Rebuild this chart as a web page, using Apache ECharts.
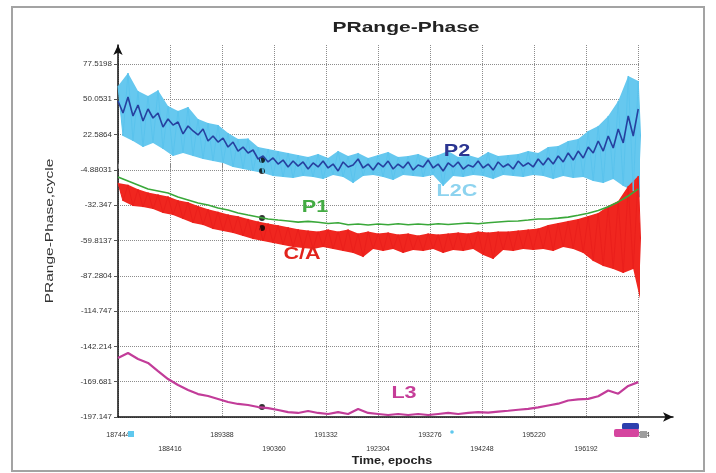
<!DOCTYPE html>
<html>
<head>
<meta charset="utf-8">
<title>PRange-Phase</title>
<script src="https://cdn.jsdelivr.net/npm/echarts@6/dist/echarts.min.js"></script>
<style>
  html, body { margin: 0; padding: 0; background: #ffffff; }
  #chart { width: 716px; height: 473px; }
</style>
</head>
<body>
<div id="chart"></div>
<script>
// Epoch sampling of the series (one sample every epochStep epochs)
const epochStart = 187444;
const epochStep = 187;

// Axis tick labels
const xTickLabels = ['187444', '188416', '189388', '190360', '191332', '192304',
  '193276', '194248', '195220', '196192', '197164'];
const yTickLabels = ['77.5198', '50.0531', '22.5864', '-4.88031', '-32.347', '-59.8137',
  '-87.2804', '-114.747', '-142.214', '-169.681', '-197.147'];

// L2C: upper / lower edge of the noise band, cycles
const l2cHigh = [60.4, 70.5, 56.5, 52.6, 57.0, 44.8, 41.0, 44.0, 34.7, 31.6,
  30.0, 23.8, 19.2, 19.5, 12.9, 11.4, 9.8, 8.3, 6.7, 5.2,
  7.5, 4.4, 9.8, 5.9, 8.3, 4.4, 6.7, 9.0, 5.2, 5.9,
  7.5, 4.4, 6.7, 9.8, 5.2, 6.7, 4.4, 9.0, 5.9, 6.7,
  7.5, 9.8, 8.3, 12.9, 13.7, 17.6, 19.2, 25.4, 29.3, 37.1,
  48.7, 68.2, 64.3];
const l2cLow = [21.5, 17.6, 13.0, 16.1, 11.4, 6.0, 8.3, 5.9, 3.6, 2.0,
  0.5, -2.6, -4.2, -5.7, -7.3, -9.6, -10.4, -11.2, -9.6, -10.4,
  -12.0, -8.8, -10.4, -15.1, -9.6, -8.8, -10.4, -12.7, -8.8, -9.6,
  -10.4, -8.8, -17.4, -9.6, -10.4, -8.8, -9.6, -12.0, -8.8, -9.6,
  -10.4, -8.8, -9.6, -12.0, -9.6, -11.2, -10.4, -13.5, -15.1, -12.0,
  -17.4, -21.3, -29.1];

// P2 trace, sampled every half step, cycles
const p2Values = [48.7, 39.4, 51.8, 37.1, 45.6, 33.2, 42.5, 35.5, 39.4, 28.5,
  34.7, 30.0, 32.4, 23.1, 29.3, 25.4, 22.3, 26.9, 17.6, 21.5,
  16.8, 19.9, 12.9, 16.8, 9.8, 12.9, 8.3, 10.6, 3.6, 5.9,
  1.3, 4.4, -0.3, 2.8, -2.6, 2.0, -1.9, 1.3, -4.2, 0.5,
  -2.6, 2.0, -3.4, -0.3, -5.7, 1.3, -2.6, -1.1, 3.6, -3.4,
  -0.3, -5.0, 0.5, -2.6, 2.0, -4.2, -0.3, -3.4, 1.3, -5.0,
  -1.1, -2.6, 2.8, -3.4, -0.3, -5.7, 0.5, -2.6, 1.3, -4.2,
  -1.1, -2.6, 2.0, -3.4, -0.3, -5.0, 1.3, -2.6, -0.3, -4.2,
  2.0, -1.9, 0.5, -2.6, 3.6, -1.1, 4.4, -0.3, 5.9, 1.3,
  8.3, 2.8, 9.8, 4.4, 12.9, 8.3, 17.6, 9.8, 21.5, 12.2,
  26.9, 16.1, 37.1, 21.5, 42.5];

// C/A: upper / lower edge of the noise band, cycles
const caHigh = [-15.0, -16.5, -20.0, -22.5, -24.0, -25.5, -28.5, -30.0, -33.0, -35.5,
  -37.5, -39.5, -41.0, -43.0, -45.0, -46.5, -48.0, -49.5, -51.0, -52.1,
  -52.9, -51.3, -52.9, -51.3, -54.4, -52.9, -54.4, -53.6, -55.2, -54.4,
  -56.0, -54.4, -55.2, -54.4, -53.6, -54.4, -52.9, -53.6, -52.9, -52.9,
  -52.1, -51.3, -50.5, -47.8, -46.2, -44.6, -43.1, -40.8, -38.4, -33.0,
  -29.1, -17.4, -9.6];
const caLow = [-29.1, -33.0, -33.8, -35.3, -38.4, -40.0, -43.1, -46.2, -47.8, -50.9,
  -52.4, -54.0, -56.3, -58.7, -60.2, -61.8, -63.3, -64.9, -65.7, -66.4,
  -64.9, -66.4, -68.0, -69.5, -72.7, -66.4, -68.0, -66.4, -69.5, -67.2,
  -68.0, -66.4, -69.5, -67.2, -68.0, -66.4, -71.1, -74.2, -67.2, -68.0,
  -66.4, -67.2, -66.4, -68.0, -64.9, -66.4, -69.5, -75.8, -79.7, -82.0,
  -85.1, -82.0, -116.2];

// P1 trace, cycles
const p1Values = [-10.4, -13.5, -16.6, -19.7, -21.3, -22.9, -26.0, -28.3, -30.6, -32.2,
  -34.5, -36.1, -38.4, -40.0, -41.5, -43.1, -43.9, -44.6, -45.5, -44.9,
  -45.6, -46.6, -46.0, -47.6, -47.0, -47.8, -47.0, -47.6, -46.8, -47.6,
  -47.0, -47.6, -46.8, -47.4, -46.8, -46.2, -46.8, -46.0, -45.4, -44.8,
  -44.6, -43.9, -43.1, -43.1, -42.4, -41.6, -40.2, -38.6, -36.4, -33.5,
  -29.8, -25.2, -19.7];

// L3 trace, cycles
const l3Values = [-151.2, -147.4, -152.0, -155.1, -161.4, -167.6, -172.3, -176.1, -179.3, -180.8,
  -183.1, -185.5, -187.0, -187.8, -189.4, -190.2, -191.7, -193.3, -194.0, -192.5,
  -194.0, -194.8, -193.3, -194.8, -190.9, -194.0, -194.8, -195.6, -194.8, -195.6,
  -194.8, -195.6, -194.8, -194.0, -194.8, -194.0, -193.3, -193.8, -193.0, -192.3,
  -191.5, -190.8, -189.6, -188.2, -186.8, -184.3, -183.5, -183.0, -181.0, -176.5,
  -179.0, -173.0, -170.0];

// Marked epoch and the value of each signal there (P2, L2C, P1, C/A, L3)
const markerEpoch = 190136;
const markerValues = [2.8, -5.7, -42.3, -50.1, -189.4];

const FONT = '"Liberation Sans", Arial, sans-serif';
const epochAt = k => epochStart + k * epochStep;
const xTicks = xTickLabels.map(Number);
const yTicks = yTickLabels.map(Number);

function nearestIndex(list, v) {
  let best = 0;
  for (let i = 1; i < list.length; i++) {
    if (Math.abs(list[i] - v) < Math.abs(list[best] - v)) best = i;
  }
  return best;
}

// Noisy trace: alternate between the upper and lower edge
function zigzag(high, low) {
  const pts = [];
  for (let k = 0; k < high.length; k++) {
    pts.push([epochAt(k), high[k]]);
    pts.push([epochAt(k) + epochStep / 2, low[k]]);
  }
  return pts;
}

function trace(values, step) {
  return values.map((v, k) => [epochStart + k * step, v]);
}

// Filled band between the two edges
function bandSeries(name, high, low, color) {
  return {
    type: 'custom',
    name: name,
    silent: true,
    clip: true,
    data: [[epochStart, high[0]]],
    renderItem: function (params, api) {
      const pts = [];
      for (let k = 0; k < high.length; k++) pts.push(api.coord([epochAt(k), high[k]]));
      for (let k = low.length - 1; k >= 0; k--) pts.push(api.coord([epochAt(k) + epochStep / 2, low[k]]));
      return { type: 'polygon', shape: { points: pts }, style: { fill: color } };
    }
  };
}

function lineSeries(name, data, color, width) {
  return {
    type: 'line',
    name: name,
    data: data,
    showSymbol: false,
    symbol: 'none',
    silent: true,
    lineStyle: { color: color, width: width },
    itemStyle: { color: color }
  };
}

const gridLine = { type: 'dotted', color: '#8c8c8c', width: 1 };
const arrowLine = {
  show: true, onZero: false, symbol: ['none', 'arrow'], symbolSize: [7, 10],
  lineStyle: { color: '#111', width: 1.5 }
};

function seriesLabel(text, x, y, color) {
  return {
    type: 'text', x: x, y: y, scaleX: 1.27, z: 100,
    style: {
      text: text, font: 'bold 17px ' + FONT, fill: color,
      align: 'center', verticalAlign: 'middle',
      textAlign: 'center', textVerticalAlign: 'middle'
    }
  };
}

const chart = echarts.init(document.getElementById('chart'));
chart.setOption({
  animation: false,
  backgroundColor: '#ffffff',
  grid: [
    { left: 118, right: 76, top: 45, bottom: 56 },
    { left: 118, right: 43, top: 45, bottom: 56 }
  ],
  xAxis: [
    {
      type: 'value', gridIndex: 0, min: epochStart, max: 197201,
      axisLine: { show: false },
      axisTick: { show: true, length: 5, customValues: xTicks, lineStyle: { color: '#888' } },
      axisLabel: {
        customValues: xTicks, fontSize: 7, fontFamily: FONT, color: '#333',
        margin: 11, lineHeight: 14,
        formatter: function (v) {
          const i = nearestIndex(xTicks, v);
          return (i % 2 ? '\n' : '') + xTickLabels[i];
        }
      },
      splitLine: { show: true, lineStyle: gridLine }
    },
    {
      type: 'value', gridIndex: 1, min: 0, max: 1,
      axisLine: arrowLine, axisTick: { show: false }, axisLabel: { show: false },
      splitLine: { show: false }
    }
  ],
  yAxis: [
    {
      type: 'value', gridIndex: 0, min: -197.147, max: 92.3,
      axisLine: { show: false },
      axisTick: { show: true, length: 4, customValues: yTicks, lineStyle: { color: '#555' } },
      axisLabel: {
        customValues: yTicks, fontSize: 8, fontFamily: FONT, color: '#333', margin: 6,
        formatter: function (v) { return yTickLabels[nearestIndex(yTicks, v)]; }
      },
      splitLine: { show: true, lineStyle: gridLine }
    },
    {
      type: 'value', gridIndex: 1, min: 0, max: 1,
      axisLine: arrowLine, axisTick: { show: false }, axisLabel: { show: false },
      splitLine: { show: false }
    }
  ],
  series: [
    bandSeries('L2C band', l2cHigh, l2cLow, '#66c8ef'),
    lineSeries('L2C', zigzag(l2cHigh, l2cLow), '#5ac3ed', 1),
    lineSeries('P2', trace(p2Values, epochStep / 2), '#26409f', 1.6),
    bandSeries('C/A band', caHigh, caLow, '#f0261f'),
    lineSeries('C/A', zigzag(caHigh, caLow), '#ea1f1c', 1),
    lineSeries('P1', trace(p1Values, epochStep), '#3aa83a', 1.6),
    lineSeries('L3', trace(l3Values, epochStep), '#c23c99', 2.2),
    {
      type: 'scatter', name: 'marker', silent: true,
      symbolSize: 6, itemStyle: { color: '#000' },
      data: markerValues.map(v => [markerEpoch, v])
    }
  ],
  graphic: [
    {
      type: 'rect', z: 100, silent: true,
      shape: { x: 12, y: 7, width: 692, height: 464 },
      style: { fill: 'none', stroke: '#a3a3a3', lineWidth: 2 }
    },
    {
      type: 'text', x: 406, y: 28, scaleX: 1.5, z: 100,
      style: {
        text: 'PRange-Phase', font: 'bold 14px ' + FONT, fill: '#222',
        align: 'center', verticalAlign: 'middle', textAlign: 'center', textVerticalAlign: 'middle'
      }
    },
    {
      type: 'text', x: 50, y: 231, rotation: Math.PI / 2, scaleX: 1.55, z: 100,
      style: {
        text: 'PRange-Phase,cycle', font: '10px ' + FONT, fill: '#333',
        align: 'center', verticalAlign: 'middle', textAlign: 'center', textVerticalAlign: 'middle'
      }
    },
    {
      type: 'text', x: 392, y: 461, scaleX: 1.15, z: 100,
      style: {
        text: 'Time, epochs', font: 'bold 11px ' + FONT, fill: '#222',
        align: 'center', verticalAlign: 'middle', textAlign: 'center', textVerticalAlign: 'middle'
      }
    },
    seriesLabel('P2', 457, 151, '#2b3591'),
    seriesLabel('L2C', 457, 191, '#8dd3ef'),
    seriesLabel('P1', 315, 207, '#43ab43'),
    seriesLabel('C/A', 302, 254, '#e2231c'),
    seriesLabel('L3', 404, 393, '#c53d98'),
    { type: 'rect', z: 100, shape: { x: 622, y: 423, width: 17, height: 7, r: 2 }, style: { fill: '#2c3fae' } },
    { type: 'rect', z: 100, shape: { x: 614, y: 429, width: 25, height: 8, r: 2 }, style: { fill: '#d5459f' } },
    { type: 'rect', z: 100, shape: { x: 640, y: 431, width: 7, height: 7 }, style: { fill: '#9e9e9e' } },
    { type: 'rect', z: 100, shape: { x: 128, y: 431, width: 6, height: 6 }, style: { fill: '#5fc8ee' } },
    { type: 'circle', z: 100, shape: { cx: 452, cy: 432, r: 1.8 }, style: { fill: '#5fc8ee' } }
  ]
});
</script>
</body>
</html>
